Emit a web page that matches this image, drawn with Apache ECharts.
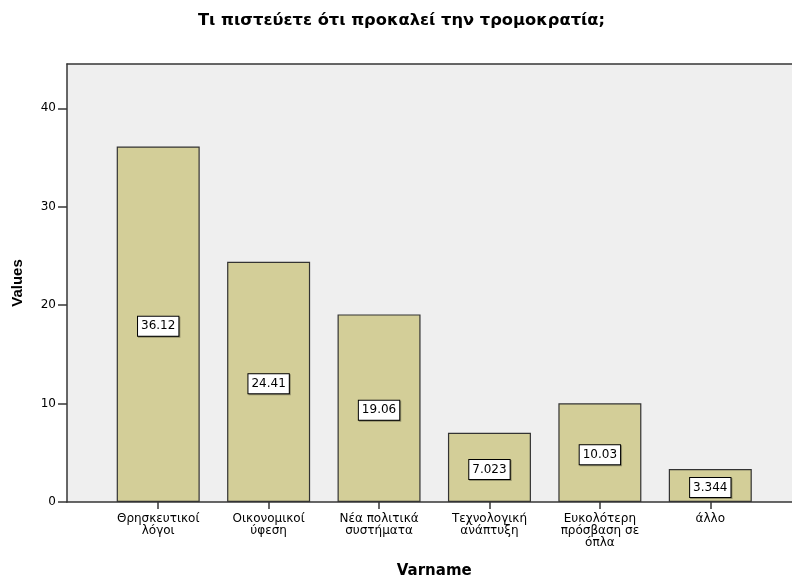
<!DOCTYPE html>
<html lang="el">
<head>
    <meta charset="UTF-8">
    <title>Τι πιστεύετε ότι προκαλεί την τρομοκρατία;</title>
    <style>
        html, body { margin: 0; padding: 0; background: #fff; }
        #main { width: 792px; height: 577px; }
    </style>
</head>
<body>
    <div id="main"></div>
    <script src="https://cdn.jsdelivr.net/npm/echarts@6/dist/echarts.min.js"></script>
    <script>
        // data
        var categories = ['Θρησκευτικοί\nλόγοι', 'Οικονομικοί\nύφεση', 'Νέα πολιτικά\nσυστήματα',
                          'Τεχνολογική\nανάπτυξη', 'Ευκολότερη\nπρόσβαση σε\nόπλα', 'άλλο'];
        var values = [36.12, 24.41, 19.06, 7.023, 10.03, 3.344];
        var yTicks = [0, 10, 20, 30, 40];

        var wide = '"DejaVu Sans", Verdana, sans-serif';
        var arial = '"Liberation Sans", Arial, sans-serif';
        var yMax = 44.5;
        var frameLine = { color: '#363636', width: 1.5 };

        var myChart = echarts.init(document.getElementById('main'));
        var option = {
            animation: false,
            textStyle: { fontFamily: wide },
            title: {
                text: 'Τι πιστεύετε ότι προκαλεί την τρομοκρατία;',
                left: 193,
                top: 8,
                padding: 5,
                textStyle: { fontSize: 16.3, fontWeight: 'bold', color: '#000', fontFamily: wide }
            },
            grid: [
                // frame / background
                { left: 67, right: -3, top: 64, bottom: 75, show: true, outerBoundsMode: 'none',
                  backgroundColor: '#EFEFEF', borderWidth: 0 },
                // bars
                { left: 103, right: 26.5, top: 64, bottom: 75, outerBoundsMode: 'none' }
            ],
            xAxis: [
                { type: 'value', gridIndex: 0, position: 'bottom', min: 0, max: 1,
                  axisLine: { show: true, lineStyle: frameLine },
                  axisTick: { show: false }, axisLabel: { show: false }, splitLine: { show: false } },
                {
                    type: 'category',
                    gridIndex: 1,
                    data: categories,
                    name: 'Varname',
                    nameLocation: 'middle',
                    nameGap: 62,
                    nameTextStyle: { fontSize: 15, fontWeight: 'bold', color: '#000', fontFamily: wide },
                    axisLine: { show: false },
                    axisTick: { show: true, alignWithLabel: true, length: 7, lineStyle: frameLine },
                    axisLabel: { fontSize: 12, color: '#000', margin: 11, lineHeight: 12, interval: 0 }
                },
                { type: 'value', gridIndex: 0, position: 'top', min: 0, max: 1,
                  axisLine: { show: true, lineStyle: frameLine },
                  axisTick: { show: false }, axisLabel: { show: false }, splitLine: { show: false } }
            ],
            yAxis: [
                {
                    type: 'value',
                    gridIndex: 0,
                    min: 0,
                    max: yMax,
                    interval: 10,
                    name: 'Values',
                    nameLocation: 'middle',
                    nameGap: 42,
                    nameTextStyle: { fontSize: 15, fontWeight: 'bold', color: '#000', fontFamily: arial },
                    axisLine: { show: true, lineStyle: frameLine },
                    axisTick: { show: true, length: 9, lineStyle: frameLine, customValues: yTicks },
                    splitLine: { show: false },
                    axisLabel: {
                        fontSize: 12, color: '#000', margin: 11, customValues: yTicks,
                        formatter: function (v) { return yTicks.indexOf(v) >= 0 ? String(v) : ''; }
                    }
                },
                { type: 'value', gridIndex: 1, show: false, min: 0, max: yMax }
            ],
            series: [
                {
                    type: 'bar',
                    xAxisIndex: 1,
                    yAxisIndex: 1,
                    data: values,
                    barWidth: 83,
                    itemStyle: { color: '#D3CE98', borderColor: '#333', borderWidth: 1.2 },
                    label: {
                        show: true,
                        position: 'inside',
                        offset: [0, 2],
                        formatter: function (p) { return String(p.value); },
                        fontSize: 12,
                        lineHeight: 14,
                        color: '#000',
                        backgroundColor: '#fff',
                        borderColor: '#000',
                        borderWidth: 1,
                        padding: [3, 3, 2, 3],
                        shadowColor: 'rgba(0,0,0,0.3)',
                        shadowOffsetX: 1,
                        shadowOffsetY: 1
                    }
                }
            ]
        };
        myChart.setOption(option);
    </script>
</body>
</html>
